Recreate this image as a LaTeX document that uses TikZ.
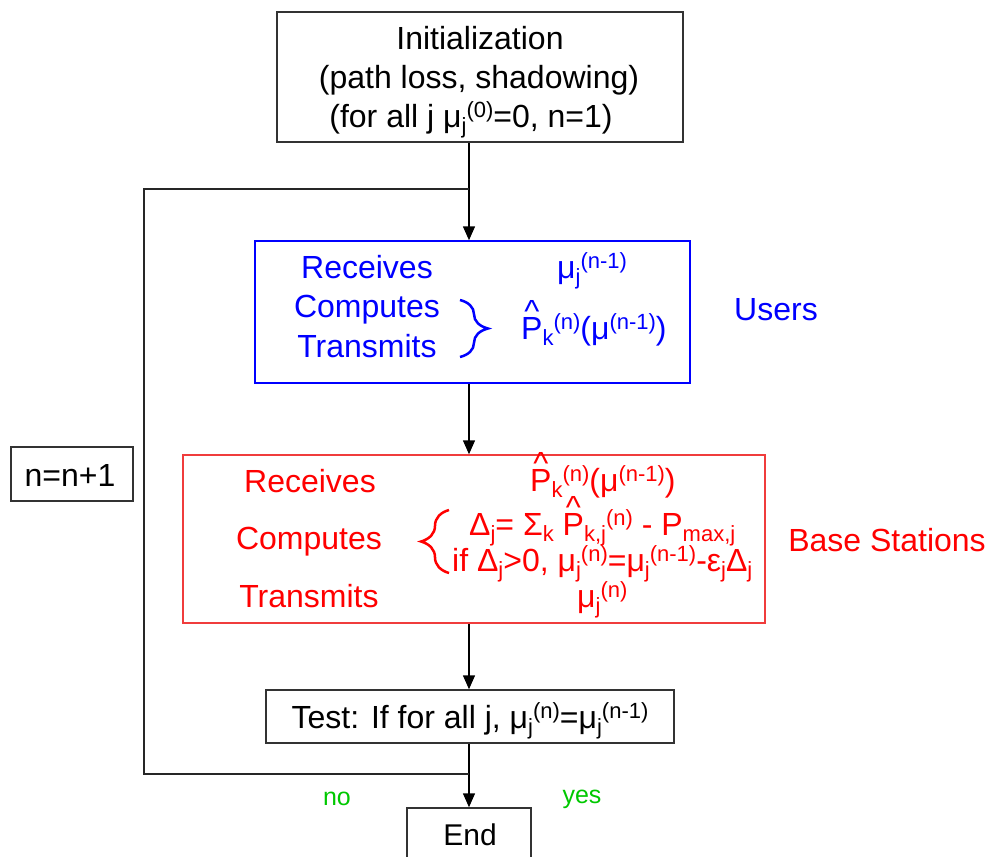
\documentclass[tikz,border=0pt]{standalone}
\usepackage{fontspec}
\setmainfont{Liberation Sans}
\usetikzlibrary{arrows.meta,decorations.pathreplacing}
\newcommand\sps[1]{\raisebox{0.3em}{\fontsize{22}{22}\selectfont #1}}
\newcommand\sbs[1]{\raisebox{-0.2em}{\fontsize{22}{22}\selectfont #1}}
\newcommand\phat{\leavevmode\rlap{\hspace{0.1em}\raisebox{0.52em}{\textasciicircum}}P}
\definecolor{ublue}{RGB}{0,0,255}
\definecolor{bred}{RGB}{255,0,0}
\definecolor{boxred}{RGB}{240,60,60}
\definecolor{ygreen}{RGB}{0,200,0}
\begin{document}
\begin{tikzpicture}[x=1pt,y=-1pt,
  box/.style={draw=black!80, line width=1.5pt, inner sep=0pt},
  txt/.style={inner sep=0pt, anchor=base, font=\fontsize{32}{38}\selectfont},
  arr/.style={line width=1.5pt, -{Triangle[length=14pt,width=12pt]}},
  ln/.style={line width=1.5pt, draw=black!85},
  brc/.style={decorate, decoration={brace, amplitude=28pt, aspect=0.5}, line width=2.5pt}]
\useasboundingbox (0,0) rectangle (991,857);
% boxes
\node[box, minimum width=406pt, minimum height=130pt] (init) at (480,77) {};
\node[box, draw=ublue, minimum width=435pt, minimum height=142pt] (users) at (472.5,312) {};
\node[box, draw=boxred, minimum width=582pt, minimum height=168pt] (bs) at (474,539) {};
\node[box, minimum width=122pt, minimum height=54pt] (inc) at (72,474) {};
\node[box, minimum width=408pt, minimum height=53pt] (test) at (470,716.5) {};
\node[box, minimum width=124pt, minimum height=54pt] (end) at (469,835) {};
% init text
\node[txt] (i1) at (480,49) {Initialization};
\node[txt] (i2) at (479,88) {(path loss, shadowing)};
\node[txt] (i3) at (471,127) {(for all j μ\sbs{j}\sps{(0)}=0, n=1)};
% users text
\begin{scope}[every node/.append style={text=ublue}]
\node[txt] (ur) at (367,278) {Receives};
\node[txt] (uc) at (367,317) {Computes};
\node[txt] (ut) at (367,357) {Transmits};
\node[txt, anchor=base west] (um) at (557,278) {μ\sbs{j}\sps{(n-1)}};
\node[txt, anchor=base west] (up) at (521,339) {\phat\sbs{k}\sps{(n)}(μ\sps{(n-1)})};
\node[txt] (ul) at (776,320) {Users};
\end{scope}
\coordinate (ub1) at (460,300);
\coordinate (ub2) at (460,357);
\draw[brc, draw=ublue] (ub1) -- (ub2);
% base station text
\begin{scope}[every node/.append style={text=bred}]
\node[txt] (br) at (310,492) {Receives};
\node[txt] (bc) at (309,549) {Computes};
\node[txt] (bt) at (309,607) {Transmits};
\node[txt, anchor=base west] (b1) at (530,491) {\phat\sbs{k}\sps{(n)}(μ\sps{(n-1)})};
\node[txt, anchor=base west] (b2) at (469,535) {Δ\sbs{j}= Σ\sbs{k} \phat\sbs{k,j}\sps{(n)} - P\sbs{max,j}};
\node[txt, anchor=base west] (b3) at (452,571) {if Δ\sbs{j}>0, μ\sbs{j}\sps{(n)}=μ\sbs{j}\sps{(n-1)}-ε\sbs{j}Δ\sbs{j}};
\node[txt, anchor=base west] (b4) at (577,607) {μ\sbs{j}\sps{(n)}};
\node[txt] (bl) at (887,551) {Base Stations};
\end{scope}
\coordinate (bb1) at (449,573);
\coordinate (bb2) at (449,510);
\draw[brc, draw=bred] (bb1) -- (bb2);
% other text
\node[txt] (nt) at (70,486) {n=n+1};
\node[txt] (tt) at (470,728) {Test: If for all j, μ\sbs{j}\sps{(n)}=μ\sbs{j}\sps{(n-1)}};
\node[txt, font=\fontsize{30}{36}\selectfont] (et) at (470,845) {End};
\node[txt, text=ygreen, font=\fontsize{25}{30}\selectfont] (no) at (337,805) {no};
\node[txt, text=ygreen, font=\fontsize{25}{30}\selectfont] (yes) at (582,803) {yes};
% connectors
\coordinate (jt) at (469,189);
\coordinate (jb) at (469,774);
\coordinate (lt) at (144,189);
\coordinate (lb) at (144,774);
\draw[arr] (init.south -| jt) -- (users.north -| jt);
\draw[arr] (users.south -| jt) -- (bs.north -| jt);
\draw[arr] (bs.south -| jt) -- (test.north -| jt);
\draw[arr] (test.south -| jt) -- (end.north -| jt);
\draw[ln] (jb) -- (lb) -- (lt) -- (jt);
\end{tikzpicture}
\end{document}
